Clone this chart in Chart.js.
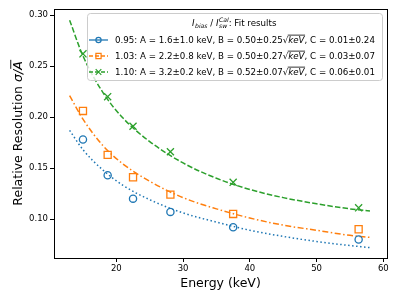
<!DOCTYPE html>
<html>
<head>
<meta charset="utf-8">
<script src="https://cdn.jsdelivr.net/npm/chart.js@4.4.1/dist/chart.umd.min.js"></script>
<style>
  html, body { margin: 0; padding: 0; background: #fff; }
</style>
</head>
<body>
<canvas id="resChart" width="399" height="299"></canvas>
<script>
// measured points (energy in keV, relative resolution)
var energies = [15.0, 18.7, 22.5, 28.1, 37.5, 56.3];
var res095 = [0.178, 0.143, 0.120, 0.107, 0.092, 0.080];
var res103 = [0.206, 0.163, 0.141, 0.124, 0.105, 0.090];
var res110 = [0.262, 0.220, 0.191, 0.166, 0.136, 0.111];

// fit curves
var fitEnergies = [13, 15, 18, 21, 25, 30, 35, 40, 45, 50, 55, 58];
var fit095 = [0.187, 0.168, 0.148, 0.133, 0.119, 0.106, 0.097, 0.089, 0.083, 0.078, 0.074, 0.072];
var fit103 = [0.221, 0.198, 0.172, 0.154, 0.137, 0.121, 0.110, 0.101, 0.094, 0.089, 0.084, 0.082];
var fit110 = [0.295, 0.260, 0.224, 0.199, 0.176, 0.155, 0.140, 0.129, 0.121, 0.115, 0.110, 0.108];

var xTicks = [20, 30, 40, 50, 60];
var yTicks = [0.10, 0.15, 0.20, 0.25, 0.30];

var biasLabels = ['0.95', '1.03', '1.10'];
var fitA = ['1.6\u00b11.0', '2.2\u00b10.8', '3.2\u00b10.2'];
var fitB = ['0.50\u00b10.25', '0.50\u00b10.27', '0.52\u00b10.07'];
var fitC = ['0.01\u00b10.24', '0.03\u00b10.07', '0.06\u00b10.01'];

var colors = ['#1f77b4', '#ff7f0e', '#2ca02c'];
var dashes = [[1.5, 2.5], [6, 2.5, 1.5, 2.5], [5.5, 2.2]];
var legendDashes = [[], [4, 2], [4, 2]];
var markers = ['circle', 'rect', 'crossRot'];
var FONT = '"DejaVu Sans", sans-serif';

function pts(xs, ys) {
    return xs.map(function(x, i) { return { x: x, y: ys[i] }; });
}

var fits = [fit095, fit103, fit110];
var measured = [res095, res103, res110];
var datasets = [];
for (var i = 0; i < 3; i++) {
    datasets.push({
        data: pts(fitEnergies, fits[i]),
        showLine: true,
        borderColor: colors[i],
        borderWidth: 1.5,
        borderDash: dashes[i],
        pointRadius: 0,
        cubicInterpolationMode: 'monotone',
        fill: false
    });
    datasets.push({
        data: pts(energies, measured[i]),
        showLine: false,
        pointStyle: markers[i],
        pointRadius: i === 1 ? 5 : (i === 2 ? 5 : 3.6),
        pointBorderWidth: 1.3,
        pointBorderColor: colors[i],
        pointBackgroundColor: 'rgba(0,0,0,0)'
    });
}

function drawMarker(ctx, type, x, y, color) {
    ctx.save();
    ctx.strokeStyle = color;
    ctx.lineWidth = 1.2;
    ctx.setLineDash([]);
    ctx.beginPath();
    if (type === 'circle') {
        ctx.arc(x, y, 2.6, 0, Math.PI * 2);
    } else if (type === 'rect') {
        ctx.rect(x - 2.6, y - 2.6, 5.2, 5.2);
    } else {
        ctx.moveTo(x - 2.8, y - 2.8); ctx.lineTo(x + 2.8, y + 2.8);
        ctx.moveTo(x - 2.8, y + 2.8); ctx.lineTo(x + 2.8, y - 2.8);
    }
    ctx.stroke();
    ctx.restore();
}

// draws √keV with italic radicand, returns new x
function drawSqrtKeV(ctx, x, y, size) {
    ctx.font = size + 'px ' + FONT;
    ctx.fillText('\u221a', x, y);
    var w = ctx.measureText('\u221a').width;
    ctx.font = 'italic ' + size + 'px ' + FONT;
    ctx.fillText('keV', x + w, y);
    var kw = ctx.measureText('keV').width;
    ctx.beginPath();
    ctx.lineWidth = 0.8;
    ctx.moveTo(x + w - 0.5, y - size * 0.92);
    ctx.lineTo(x + w + kw + 0.5, y - size * 0.92);
    ctx.stroke();
    return x + w + kw;
}

var framePlugin = {
    id: 'frame',
    afterDraw: function(chart) {
        var ctx = chart.ctx, a = chart.chartArea;
        ctx.save();
        ctx.strokeStyle = '#000';
        ctx.lineWidth = 1;
        ctx.strokeRect(Math.round(a.left) + 0.5, Math.round(a.top) + 0.5,
            Math.round(a.right - a.left), Math.round(a.bottom - a.top));

        // axis titles
        ctx.fillStyle = '#000';
        ctx.textBaseline = 'alphabetic';
        ctx.font = '12.5px ' + FONT;
        ctx.textAlign = 'center';
        ctx.fillText('Energy (keV)', (a.left + a.right) / 2, 287);

        ctx.save();
        ctx.translate(22, (a.top + a.bottom) / 2);
        ctx.rotate(-Math.PI / 2);
        ctx.textAlign = 'left';
        var s = 12.5;
        ctx.font = s + 'px ' + FONT;
        var t1 = 'Relative Resolution ';
        var w1 = ctx.measureText(t1).width;
        ctx.font = 'italic ' + s + 'px ' + FONT;
        var w2 = ctx.measureText('\u03c3/').width;
        var w3 = ctx.measureText('A').width;
        var x0 = -(w1 + w2 + w3) / 2;
        ctx.font = s + 'px ' + FONT;
        ctx.fillText(t1, x0, 0);
        ctx.font = 'italic ' + s + 'px ' + FONT;
        ctx.fillText('\u03c3/A', x0 + w1, 0);
        ctx.beginPath();
        ctx.lineWidth = 0.9;
        ctx.strokeStyle = '#000';
        ctx.moveTo(x0 + w1 + w2 + 1, -s * 0.9);
        ctx.lineTo(x0 + w1 + w2 + w3 + 1.5, -s * 0.9);
        ctx.stroke();
        ctx.restore();

        // legend
        var lx = 87, ly = 13, lw = 295, lh = 67;
        ctx.beginPath();
        ctx.roundRect(lx + 0.5, ly + 0.5, lw, lh, 3);
        ctx.fillStyle = 'rgba(255,255,255,0.8)';
        ctx.fill();
        ctx.strokeStyle = '#cccccc';
        ctx.lineWidth = 1;
        ctx.stroke();

        var fs = 8.7;
        ctx.fillStyle = '#000';
        ctx.strokeStyle = '#000';
        ctx.textAlign = 'left';
        // title: I_bias / I_sw^Cal: Fit results
        var tx = 192, ty = 26;
        ctx.font = 'italic ' + fs + 'px ' + FONT;
        ctx.fillText('I', tx, ty); tx += ctx.measureText('I').width + 0.5;
        ctx.font = 'italic ' + (fs * 0.7) + 'px ' + FONT;
        ctx.fillText('bias', tx, ty + 2); tx += ctx.measureText('bias').width;
        ctx.font = fs + 'px ' + FONT;
        ctx.fillText(' / ', tx, ty); tx += ctx.measureText(' / ').width;
        ctx.font = 'italic ' + fs + 'px ' + FONT;
        ctx.fillText('I', tx, ty); tx += ctx.measureText('I').width + 0.5;
        ctx.font = 'italic ' + (fs * 0.7) + 'px ' + FONT;
        ctx.fillText('sw', tx, ty + 2);
        ctx.fillText('Cal', tx, ty - 4.5);
        tx += ctx.measureText('Cal').width;
        ctx.font = fs + 'px ' + FONT;
        ctx.fillText(': Fit results', tx, ty);

        for (var i = 0; i < 3; i++) {
            var ry = 40 + i * 16;
            ctx.save();
            ctx.strokeStyle = colors[i];
            ctx.lineWidth = 1.3;
            ctx.setLineDash(legendDashes[i]);
            ctx.beginPath();
            ctx.moveTo(89, ry); ctx.lineTo(108, ry);
            ctx.stroke();
            ctx.restore();
            drawMarker(ctx, markers[i], 98.5, ry, colors[i]);

            var by = ry + fs * 0.36;
            var x = 115;
            ctx.fillStyle = '#000';
            ctx.strokeStyle = '#000';
            ctx.font = fs + 'px ' + FONT;
            var pre = biasLabels[i] + ': A = ' + fitA[i] + ' keV, B = ' + fitB[i];
            ctx.fillText(pre, x, by);
            x += ctx.measureText(pre).width;
            x = drawSqrtKeV(ctx, x, by, fs);
            ctx.font = fs + 'px ' + FONT;
            ctx.fillText(', C = ' + fitC[i], x, by);
        }
        ctx.restore();
    }
};

var ctx = document.getElementById('resChart').getContext('2d');
var resChart = new Chart(ctx, {
    type: 'scatter',
    data: { datasets: datasets },
    options: {
        responsive: false,
        animation: false,
        devicePixelRatio: 1,
        layout: { padding: { top: 9, right: 12, left: 0, bottom: 0 } },
        plugins: { legend: { display: false }, tooltip: { enabled: false } },
        scales: {
            x: {
                type: 'linear',
                min: 10.66,
                max: 60.55,
                afterBuildTicks: function(scale) {
                    scale.ticks = xTicks.map(function(v) { return { value: v }; });
                },
                afterFit: function(scale) { scale.height = 41; },
                ticks: {
                    color: '#000',
                    padding: 2,
                    font: { family: 'DejaVu Sans', size: 8.5 },
                    callback: function(v) { return String(v); }
                },
                border: { display: false },
                grid: { drawOnChartArea: false, drawTicks: true, tickLength: 4, tickColor: '#000' }
            },
            y: {
                min: 0.0618,
                max: 0.306,
                afterBuildTicks: function(scale) {
                    scale.ticks = yTicks.map(function(v) { return { value: v }; });
                },
                afterFit: function(scale) { scale.width = 54; },
                ticks: {
                    color: '#000',
                    padding: 2,
                    font: { family: 'DejaVu Sans', size: 8.5 },
                    callback: function(v) { return v.toFixed(2); }
                },
                border: { display: false },
                grid: { drawOnChartArea: false, drawTicks: true, tickLength: 4, tickColor: '#000' }
            }
        }
    },
    plugins: [framePlugin]
});
</script>
</body>
</html>
